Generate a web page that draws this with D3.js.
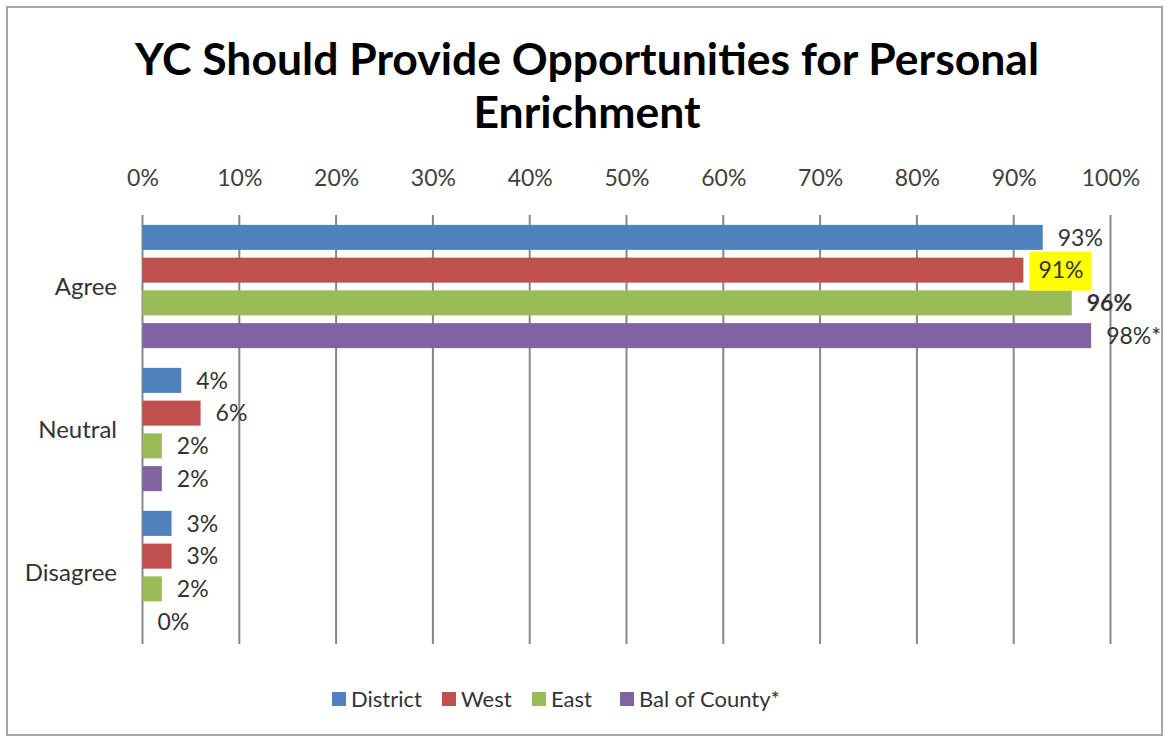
<!DOCTYPE html>
<html>
<head>
<meta charset="utf-8">
<script src="https://cdn.jsdelivr.net/npm/d3@7"></script>
<style>
  html, body { margin: 0; padding: 0; background: #fff; }
  svg { display: block; }
  text { font-family: Lato, "Open Sans", sans-serif; }
</style>
</head>
<body>
<svg id="chart" width="1165" height="736"></svg>
<script>
// ---- data ----
const categories = ["Agree", "Neutral", "Disagree"];
const seriesNames = ["District", "West", "East", "Bal of County*"];
const District = [93, 4, 3];
const West = [91, 6, 3];
const East = [96, 2, 2];
const BalOfCounty = [98, 2, 0];
const labelSuffix = ["", "", "", "*"];
const tickValues = [0, 10, 20, 30, 40, 50, 60, 70, 80, 90, 100];
const titleLines = ["YC Should Provide Opportunities for Personal", "Enrichment"];

const seriesValues = [District, West, East, BalOfCounty];
const colors = ["#4F81BD", "#C0504D", "#9BBB59", "#8064A2"];

const svg = d3.select("#chart");

// border
svg.append("rect").attr("x", 7).attr("y", 7).attr("width", 1155).attr("height", 728)
  .attr("fill", "#fff").attr("stroke", "#a6a6a6").attr("stroke-width", 2);

// title
svg.append("g").selectAll("text").data(titleLines).join("text")
  .attr("x", 587).attr("y", (d, i) => 75 + i * 53)
  .attr("text-anchor", "middle")
  .attr("font-size", 44.5).attr("font-weight", 700).attr("fill", "#000")
  .text(d => d);

const plotLeft = 142.5, plotRight = 1110.5, plotTop = 215, plotBottom = 644;

const x = d3.scaleLinear().domain([0, 100]).range([plotLeft, plotRight]);
const y = d3.scaleBand().domain(categories).range([plotTop, plotBottom]).padding(0);
const yInner = d3.scaleBand().domain(seriesNames)
  .range([6, y.bandwidth() - 6]).paddingInner(0.236).paddingOuter(0.118);

// gridlines
svg.append("g").selectAll("line").data(tickValues).join("line")
  .attr("x1", d => x(d)).attr("x2", d => x(d))
  .attr("y1", plotTop).attr("y2", plotBottom)
  .attr("stroke", "#878787").attr("stroke-width", 2);

// top axis labels
const xAxis = d3.axisTop(x).tickValues(tickValues).tickFormat(d => d + "%").tickSize(0);
const ax = svg.append("g").attr("transform", `translate(0,${plotTop - 26})`).call(xAxis);
ax.select(".domain").remove();
ax.selectAll("text").attr("font-size", 23).attr("fill", "#404040")
  .attr("font-family", "Lato, sans-serif").attr("dy", 0);

// category labels
svg.append("g").selectAll("text").data(categories).join("text")
  .attr("x", 117).attr("y", d => y(d) + y.bandwidth() / 2)
  .attr("dy", "0.35em").attr("text-anchor", "end")
  .attr("font-size", 24).attr("fill", "#333")
  .text(d => d);

// bars
const flat = [];
categories.forEach((c, ci) => seriesNames.forEach((s, si) => {
  flat.push({ cat: c, series: s, si, ci, value: seriesValues[si][ci] });
}));

svg.append("g").selectAll("rect").data(flat).join("rect")
  .attr("x", x(0)).attr("y", d => y(d.cat) + yInner(d.series))
  .attr("width", d => x(d.value) - x(0))
  .attr("height", yInner.bandwidth())
  .attr("fill", d => colors[d.si]);

// highlight for West Agree label
const hl = flat.find(d => d.cat === "Agree" && d.series === "West");
svg.append("rect")
  .attr("x", x(hl.value) + 6).attr("y", y(hl.cat) + yInner(hl.series) - 6)
  .attr("width", 62).attr("height", 39).attr("fill", "#FFFF00");

// data labels
svg.append("g").selectAll("text").data(flat).join("text")
  .attr("x", d => x(d.value) + 15)
  .attr("y", d => y(d.cat) + yInner(d.series) + yInner.bandwidth() / 2)
  .attr("dy", "0.36em")
  .attr("font-size", 23).attr("fill", "#333")
  .attr("font-weight", d => (d.cat === "Agree" && d.series === "East") ? 700 : 400)
  .text(d => d.value + "%" + (d.cat === "Agree" ? labelSuffix[d.si] : ""));

// legend
const legendX = [332, 442, 532, 620];
const lg = svg.append("g").selectAll("g").data(seriesNames).join("g")
  .attr("transform", (d, i) => `translate(${legendX[i]},692)`);
lg.append("rect").attr("width", 14).attr("height", 14).attr("fill", (d, i) => colors[i]);
lg.append("text").attr("x", 19).attr("y", 7).attr("dy", "0.36em")
  .attr("font-size", 22).attr("fill", "#333").text(d => d);
</script>
</body>
</html>
